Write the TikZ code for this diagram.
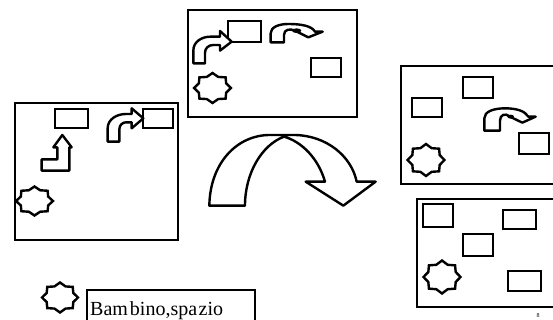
\documentclass[tikz,border=0pt]{standalone}
\usepackage{fontspec}
\setmainfont{Liberation Serif}
\tikzset{
  frame/.style={draw=black,line width=2.9pt,fill=white},
  item/.style={draw=black,line width=2.9pt},
  arrowshape/.style={draw=black,line width=2.4pt,line join=round,fill=white},
  zoomed/.style={shift={(#1)},x=0.3333pt,y=-0.3333pt},
}
% kid star: centre x, y, radius x, radius y
\newcommand{\kidstar}[4]{%
  \draw[arrowshape,line join=miter]
  (#1+#3,#2)
  \foreach \a in {22.5,45,...,337.5}{
    -- ({#1+#3*(mod(\a,45)==0?1:0.8)*cos(\a)},{#2+#4*(mod(\a,45)==0?1:0.8)*sin(\a)})
  } -- cycle;}
\begin{document}
\begin{tikzpicture}[x=1pt,y=-1pt]
\useasboundingbox (0,0) rectangle (553,320);
\fill[white] (0,0) rectangle (553,320);

% left frame
\draw[frame] (15,103) rectangle (178,240);
\draw[item] (55,109) rectangle (88,128);
\draw[item] (143,109) rectangle (173,128);
\kidstar{34.5}{201}{18.5}{14.5}
\begin{scope}[zoomed={0,90}]
\draw[arrowshape] (125,208) -- (125,242) -- (208,242) -- (208,172) -- (215,172) -- (187,135) -- (160,172) -- (172,172) -- (172,208) -- cycle;
\draw[arrowshape] (323,155) -- (323,115) .. controls (323,88) and (350,72) .. (378,72) -- (395,72) -- (395,55) -- (430,85) -- (395,115) -- (395,97) -- (378,97) .. controls (368,97) and (358,105) .. (358,118) -- (358,155) -- cycle;
\end{scope}

% top frame
\draw[frame] (188,10) rectangle (357,117);
\draw[item] (228,21) rectangle (261,42);
\draw[item] (311,58) rectangle (341,77);
\kidstar{212.5}{88}{18.5}{15}
\begin{scope}[zoomed={180,0}]
\draw[arrowshape] (40,190) -- (40,152) .. controls (40,125) and (65,110) .. (92,110) -- (120,110) -- (120,93) -- (155,125) -- (120,152) -- (120,135) -- (100,135) .. controls (85,135) and (75,145) .. (75,158) -- (75,190) -- cycle;
\draw[arrowshape] (272,127) -- (272,100) .. controls (272,82) and (295,72) .. (325,72) .. controls (365,72) and (395,78) .. (405,95) -- (428,95) -- (385,112) -- (345,92) .. controls (330,85) and (312,88) .. (312,105) -- (312,127) -- cycle;
\fill (350,92) ellipse [x radius=14,y radius=7];
% big arrow
\draw[arrowshape,line width=2.4pt] (88,617) .. controls (90,490) and (170,405) .. (270,405) -- (340,405) .. controls (440,405) and (515,470) .. (530,545) -- (587,545) -- (490,617) -- (377,545) -- (435,545) .. controls (415,475) and (365,425) .. (312,410) .. controls (245,435) and (195,520) .. (195,617) -- cycle;
\end{scope}

% right upper frame
\draw[frame] (401,66) rectangle (556,184);
\draw[item] (463,77) rectangle (493,98);
\draw[item] (412,98) rectangle (442,117);
\draw[item] (519,133) rectangle (549,154);
\kidstar{426}{160}{18.5}{16}
\begin{scope}[zoomed={390,55}]
\draw[arrowshape] (283,227) -- (283,190) .. controls (283,170) and (310,160) .. (345,160) .. controls (380,160) and (405,168) .. (415,185) -- (437,185) -- (397,203) -- (360,185) .. controls (345,172) and (330,180) .. (330,197) -- (330,227) -- cycle;
\fill (362,185) ellipse [x radius=10,y radius=6];
\end{scope}

% right lower frame
\draw[frame] (417,199) rectangle (556,307);
\draw[item] (423,204) rectangle (453,227);
\draw[item] (503,210) rectangle (536,229);
\draw[item] (463,234) rectangle (493,256);
\draw[item] (508,271) rectangle (541,291);
\kidstar{442}{277}{18.5}{16.5}
\node[font=\fontsize{6}{7}\selectfont,inner sep=0pt] (mark) at (538,316) {8};

% legend
\kidstar{60}{297.5}{18}{15}
\draw[item] (87,322) -- (87,290) -- (255,290) -- (255,322);
\node[anchor=base west,inner sep=0pt,font=\fontsize{20}{22}\selectfont] (legend) at (90,315) {Bam\kern2pt bino,spa\kern1.5pt zio};
\end{tikzpicture}
\end{document}
